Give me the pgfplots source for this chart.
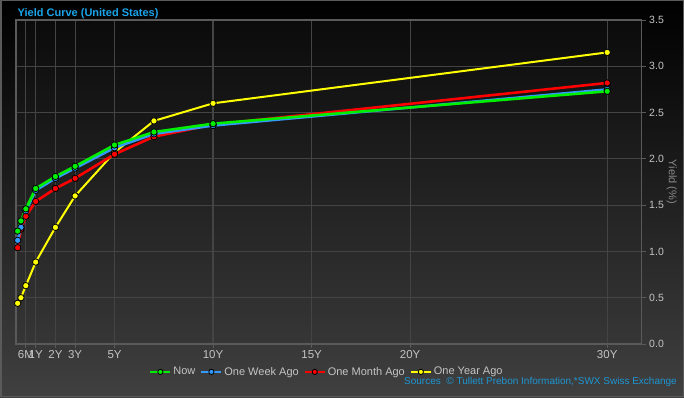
\documentclass[border=0pt]{standalone}
\usepackage{pgfplots}
\pgfplotsset{compat=1.18}
\usepackage{fontspec}
\setmainfont{Liberation Sans}
\definecolor{bgtop}{HTML}{000000}
\definecolor{bgbot}{HTML}{404040}
\definecolor{patop}{HTML}{0B0B0B}
\definecolor{pabot}{HTML}{363636}
\definecolor{gridc}{HTML}{444444}
\definecolor{axc}{HTML}{5A5A5A}
\definecolor{tickc}{HTML}{C4C4C4}
\definecolor{ylabc}{HTML}{8A8A8A}
\definecolor{titlec}{HTML}{1AA3E8}
\definecolor{srcc}{HTML}{1E96D2}
\definecolor{cnow}{HTML}{00EE00}
\definecolor{cweek}{HTML}{3399FF}
\definecolor{cmonth}{HTML}{FF0000}
\definecolor{cyear}{HTML}{FFFF00}
\begin{document}
\begin{tikzpicture}[x=1pt,y=1pt]
\shade[top color=bgtop, bottom color=bgbot] (0,0) rectangle (684,397);
\draw[color=axc, line width=1.5pt] (0.75,0.75) rectangle (683.25,396.25);
\node[anchor=west, font=\fontsize{11}{13}\selectfont\bfseries, text=titlec, inner sep=0pt] at (17.5,383) {Yield Curve (United States)};
\begin{axis}[
  at={(16pt,53pt)}, anchor=south west,
  scale only axis, width=625.7pt, height=324pt,
  xmin=0, xmax=31.75, ymin=0, ymax=3.5,
  axis background/.style={top color=patop, bottom color=pabot},
  xtick={0.5,1,2,3,5,10,15,20,30},
  xticklabels={6M,1Y,2Y,3Y,5Y,10Y,15Y,20Y,30Y},
  ytick={0,0.5,1,1.5,2,2.5,3,3.5},
  yticklabels={0.0,0.5,1.0,1.5,2.0,2.5,3.0,3.5},
  yticklabel pos=right,
  xtick pos=left, ytick pos=right,
  tick align=outside, major tick length=4pt,
  tick style={color=axc, line width=1pt},
  grid=major,
  major grid style={color=gridc, line width=1.2pt},
  axis line style={color=axc, line width=1.2pt},
  tick label style={font=\fontsize{10.5}{12}\selectfont, text=tickc},
  xticklabel style={font=\fontsize{11.5}{13}\selectfont, yshift=1pt},
  ylabel={Yield (\%)},
  ylabel style={at={(axis description cs:1.048,0.5)}, anchor=center, rotate=180, text=ylabc, font=\fontsize{11}{13}\selectfont},
  legend columns=-1,
  reverse legend,
  legend style={at={(axis description cs:0.497,-0.086)}, anchor=center, draw=none, fill=none, text=tickc, font=\fontsize{11}{13}\selectfont, /tikz/every even column/.append style={column sep=3pt}},
  legend image code/.code={\draw[#1, mark repeat=2, mark phase=2, line width=2pt, mark size=2.6pt] plot coordinates {(0pt,0pt) (10pt,0pt) (20pt,0pt)};},
  every axis plot/.append style={mark=*, mark size=3.2pt},
]
\addplot[cyear, line width=2pt, mark options={draw=black, fill=cyear, line width=0.8pt}] coordinates {(0.0833,0.44) (0.25,0.50) (0.5,0.63) (1,0.885) (2,1.26) (3,1.60) (5,2.07) (7,2.41) (10,2.60) (30,3.15)};
\addlegendentry{One Year Ago}
\addplot[cmonth, line width=2.6pt, mark options={draw=black, fill=cmonth, line width=0.8pt}] coordinates {(0.0833,1.04) (0.25,1.24) (0.5,1.38) (1,1.54) (2,1.68) (3,1.79) (5,2.05) (7,2.24) (10,2.37) (30,2.82)};
\addlegendentry{One Month Ago}
\addplot[cweek, line width=2.6pt, mark options={draw=black, fill=cweek, line width=0.8pt}] coordinates {(0.0833,1.12) (0.25,1.26) (0.5,1.44) (1,1.66) (2,1.79) (3,1.90) (5,2.12) (7,2.27) (10,2.36) (30,2.75)};
\addlegendentry{One Week Ago}
\addplot[cnow, line width=2.6pt, mark options={draw=black, fill=cnow, line width=0.8pt}] coordinates {(0.0833,1.22) (0.25,1.33) (0.5,1.46) (1,1.68) (2,1.81) (3,1.92) (5,2.15) (7,2.29) (10,2.38) (30,2.73)};
\addlegendentry{Now}
\end{axis}
\node[anchor=east, text=srcc, font=\fontsize{10}{12}\selectfont, inner sep=0pt] at (677,15) {Sources\ \ © Tullett Prebon Information,*SWX Swiss Exchange};
\pgfresetboundingbox
\path (0,0) rectangle (684,397);
\end{tikzpicture}
\end{document}
